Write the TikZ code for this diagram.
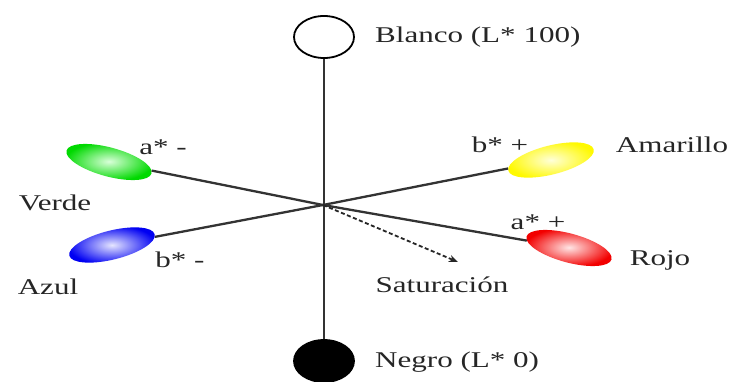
\documentclass[tikz,border=0pt]{standalone}
\usepackage{fontspec}
\setmainfont[FakeStretch=1.38]{Liberation Serif}
\usetikzlibrary{shapes.geometric,arrows.meta}
\begin{document}
\begin{tikzpicture}[x=1pt,y=1pt,
  lbl/.style={font=\fontsize{22.5}{24}\selectfont, text=black!85, inner sep=0pt},
  blob/.style={ellipse, minimum width=88pt, minimum height=29pt, inner sep=0pt},
  axis/.style={line width=2.3pt, draw=black!80},
  pole/.style={ellipse, minimum width=60pt, minimum height=42pt, inner sep=0pt, line width=1.8pt, draw=black}]
\useasboundingbox (0,0) rectangle (733,381);
\clip (0,0) rectangle (733,381);
\fill[white] (0,0) rectangle (733,381);
\coordinate (c) at (323,176);
% poles
\node[pole, fill=white] (blanco) at (324,344) {};
\node[pole, fill=black] (negro) at (324,20) {};
\draw[axis] (blanco) -- (negro);
% colour blobs
\node[blob, rotate=-15, inner color=green!15, outer color=green!85!black] (verde) at (109,219) {};
\node[blob, rotate=14, inner color=blue!10, outer color=blue!95!black] (azul) at (112,136) {};
\node[blob, rotate=14, inner color=yellow!15, outer color=yellow!95!orange] (amarillo) at (551,221) {};
\node[blob, rotate=-15, inner color=red!10, outer color=red!95!black] (rojo) at (569,133) {};
\draw[axis] (verde) -- (c);
\draw[axis] (azul) -- (c);
\draw[axis] (amarillo) -- (c);
\draw[axis] (rojo) -- (c);
\coordinate (satend) at (458,119);
\draw[line width=1.8pt, draw=black!85, dash pattern=on 4pt off 2.5pt, -{Stealth[length=9pt,width=7pt]}] (c) -- (satend);
% labels
\node[lbl, anchor=west] (tblanco) at (375,344) {Blanco (L* 100)};
\node[lbl, anchor=west] (tnegro) at (375,19) {Negro (L* 0)};
\node[lbl] (tam) at (163,234) {a* -};
\node[lbl] (tverde) at (55,178) {Verde};
\node[lbl] (tbm) at (180,121) {b* -};
\node[lbl] (tazul) at (48,94) {Azul};
\node[lbl] (tbp) at (500,236) {b* +};
\node[lbl] (tamarillo) at (672,236) {Amarillo};
\node[lbl] (tap) at (538,159) {a* +};
\node[lbl] (trojo) at (660,121) {Rojo};
\node[lbl] (tsat) at (442,96) {Saturación};
\end{tikzpicture}
\end{document}
